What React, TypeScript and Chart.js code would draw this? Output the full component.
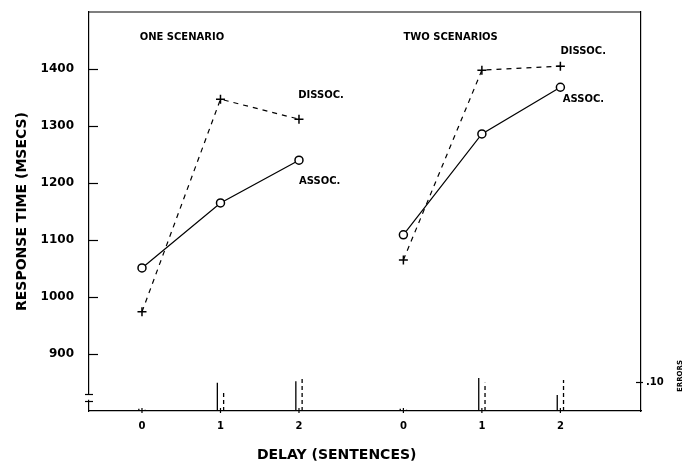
import React, { useEffect, useRef } from 'react';
import { Chart, registerables } from 'chart.js';

Chart.register(...registerables);

// ---- data ----
const delays = [0, 1, 2];
const delayLabels = ['0', '1', '2'];
const scenarioNames = ['ONE SCENARIO', 'TWO SCENARIOS'];
const oneAssoc = [1051, 1165, 1240];
const oneDissoc = [974, 1347, 1312];
const twoAssoc = [1109, 1286, 1368];
const twoDissoc = [1065, 1398, 1405];
const oneAssocErr = [0.008, 0.097, 0.103];
const oneDissocErr = [0.004, 0.066, 0.11];
const twoAssocErr = [0.008, 0.114, 0.055];
const twoDissocErr = [0.004, 0.097, 0.107];
const yTicks = [900, 1000, 1100, 1200, 1300, 1400];
const errTicks = [0.1];
const errTickLabels = ['.10'];

// ---- layout config ----
const groupStart = [0, 3.33];
const errOffset = 0.04;
const FONT = 'DejaVu Sans';

const xPositions = groupStart.flatMap((g) => delays.map((d) => g + d));
const xLabelFor = (v: number) => {
  const i = xPositions.findIndex((p) => Math.abs(p - v) < 1e-6);
  return i >= 0 ? delayLabels[i % delayLabels.length] : '';
};

const linePts = (vals: number[], g: number) => vals.map((v, i) => ({ x: g + delays[i], y: v }));
const errPts = (vals: number[], g: number, dx: number) => {
  const pts: any[] = [];
  vals.forEach((v, i) => {
    const x = g + delays[i] + dx;
    pts.push({ x, y: 0 }, { x, y: v }, { x, y: null });
  });
  return pts;
};

const annotations = [
  { text: scenarioNames[0], x: -0.03, y: 1456 },
  { text: scenarioNames[1], x: 3.33, y: 1456 },
  { text: 'DISSOC.', x: 1.99, y: 1354 },
  { text: 'ASSOC.', x: 2.0, y: 1203 },
  { text: 'DISSOC.', x: 5.33, y: 1430 },
  { text: 'ASSOC.', x: 5.36, y: 1346 },
];

const zeroPad = (s: any) => {
  s.paddingTop = 0;
  s.paddingBottom = 0;
  s.paddingLeft = 0;
  s.paddingRight = 0;
};

const decorPlugin = {
  id: 'decor',
  afterDraw(chart: any) {
    const { ctx, chartArea } = chart;
    const xs = chart.scales.x;
    const ys = chart.scales.y;
    const es = chart.scales.err;
    const { left, right, top, bottom } = chartArea;
    ctx.save();
    ctx.strokeStyle = '#000';
    ctx.fillStyle = '#000';
    ctx.lineWidth = 1.2;
    // top border
    ctx.beginPath();
    ctx.moveTo(left, top);
    ctx.lineTo(right, top);
    ctx.stroke();
    // y ticks inward
    yTicks.forEach((t) => {
      const py = Math.round(ys.getPixelForValue(t)) + 0.5;
      ctx.beginPath();
      ctx.moveTo(left, py);
      ctx.lineTo(left + 9, py);
      ctx.stroke();
    });
    // x ticks
    xPositions.forEach((p) => {
      const px = xs.getPixelForValue(p);
      ctx.beginPath();
      ctx.moveTo(px, bottom - 3);
      ctx.lineTo(px, bottom + 2);
      ctx.stroke();
    });
    // err tick
    errTicks.forEach((t) => {
      const py = Math.round(es.getPixelForValue(t)) + 0.5;
      ctx.beginPath();
      ctx.moveTo(right - 5, py);
      ctx.lineTo(right + 2, py);
      ctx.stroke();
    });
    // axis break
    const b1 = ys.getPixelForValue(830);
    const b2 = ys.getPixelForValue(818);
    ctx.fillStyle = '#fff';
    ctx.fillRect(left - 2, b1 + 1, 4, b2 - b1 - 2);
    ctx.fillStyle = '#000';
    [b1, b2].forEach((b) => {
      ctx.beginPath();
      ctx.moveTo(left - 4, Math.round(b) + 0.5);
      ctx.lineTo(left + 4, Math.round(b) + 0.5);
      ctx.stroke();
    });
    // annotations
    ctx.font = `bold 10px "${FONT}"`;
    ctx.textAlign = 'left';
    ctx.textBaseline = 'middle';
    annotations.forEach((a) => {
      ctx.fillText(a.text, xs.getPixelForValue(a.x), ys.getPixelForValue(a.y));
    });
    // x title
    ctx.font = `bold 14px "${FONT}"`;
    ctx.textAlign = 'center';
    ctx.fillText('DELAY (SENTENCES)', xs.getPixelForValue(2.48), bottom + 44);
    // ERRORS label
    ctx.save();
    ctx.translate(chart.width - 2, es.getPixelForValue(0.1) - 6);
    ctx.rotate(-Math.PI / 2);
    ctx.font = `bold 7px "${FONT}"`;
    ctx.textAlign = 'center';
    ctx.fillText('ERRORS', 0, 0);
    ctx.restore();
    ctx.restore();
  },
};

export default function App() {
  const ref = useRef<HTMLCanvasElement | null>(null);
  useEffect(() => {
    document.body.style.margin = '0';
    const canvas = ref.current;
    if (!canvas) return;
    Chart.defaults.font.family = FONT;
    Chart.defaults.color = '#000';
    const mainLine = (data: any[], dashed: boolean) => ({
      data,
      yAxisID: 'y',
      borderColor: '#000',
      borderWidth: 1.2,
      borderDash: dashed ? [5, 5] : [],
      pointStyle: dashed ? 'cross' : 'circle',
      pointRadius: dashed ? 4.5 : 4,
      pointBorderWidth: 1.5,
      pointBorderColor: '#000',
      pointBackgroundColor: '#fff',
      fill: false,
      tension: 0,
    });
    const errLine = (data: any[], dashed: boolean) => ({
      data,
      yAxisID: 'err',
      borderColor: '#000',
      borderWidth: 1.3,
      borderDash: dashed ? [4, 3] : [],
      pointRadius: 0,
      spanGaps: false,
      fill: false,
    });
    const chart = new Chart(canvas, {
      type: 'line',
      data: {
        datasets: [
          mainLine(linePts(oneAssoc, groupStart[0]), false),
          mainLine(linePts(oneDissoc, groupStart[0]), true),
          mainLine(linePts(twoAssoc, groupStart[1]), false),
          mainLine(linePts(twoDissoc, groupStart[1]), true),
          errLine(errPts(oneAssocErr, groupStart[0], -errOffset), false),
          errLine(errPts(oneDissocErr, groupStart[0], errOffset), true),
          errLine(errPts(twoAssocErr, groupStart[1], -errOffset), false),
          errLine(errPts(twoDissocErr, groupStart[1], errOffset), true),
        ] as any,
      },
      options: {
        animation: false,
        responsive: false,
        devicePixelRatio: 1,
        layout: { padding: { top: 12, left: 0, right: 0, bottom: 0 } },
        plugins: { legend: { display: false }, tooltip: { enabled: false } },
        scales: {
          x: {
            type: 'linear',
            position: 'bottom',
            min: -0.675,
            max: 6.357,
            grid: { display: false, drawTicks: false },
            border: { display: true, color: '#000', width: 1.2 },
            afterBuildTicks: (s: any) => {
              s.ticks = xPositions.map((v) => ({ value: v }));
            },
            afterFit: (s: any) => {
              s.height = 55;
              zeroPad(s);
            },
            ticks: {
              autoSkip: false,
              maxRotation: 0,
              padding: 9,
              font: { family: FONT, size: 10, weight: 'bold' },
              color: '#000',
              callback: (v: any) => xLabelFor(Number(v)),
            },
          },
          y: {
            type: 'linear',
            position: 'left',
            min: 800,
            max: 1500,
            grid: { display: false, drawTicks: false },
            border: { display: true, color: '#000', width: 1.2 },
            afterBuildTicks: (s: any) => {
              s.ticks = yTicks.map((v) => ({ value: v }));
            },
            afterFit: (s: any) => {
              s.width = 89;
              zeroPad(s);
            },
            ticks: {
              padding: 15,
              font: { family: FONT, size: 12, weight: 'bold' },
              color: '#000',
              callback: (v: any) => String(v),
            },
            title: {
              display: true,
              text: 'RESPONSE TIME (MSECS)',
              font: { family: FONT, size: 14, weight: 'bold' },
              color: '#000',
              padding: { top: 14, bottom: 0 },
            },
          },
          err: {
            type: 'linear',
            position: 'right',
            min: 0,
            max: 1.376,
            grid: { display: false, drawTicks: false },
            border: { display: true, color: '#000', width: 1.2 },
            afterBuildTicks: (s: any) => {
              s.ticks = errTicks.map((v) => ({ value: v }));
            },
            afterFit: (s: any) => {
              s.width = 41;
              zeroPad(s);
            },
            ticks: {
              padding: 5,
              font: { family: FONT, size: 10, weight: 'bold' },
              color: '#000',
              callback: (v: any) => {
                const i = errTicks.findIndex((t) => Math.abs(t - Number(v)) < 1e-9);
                return i >= 0 ? errTickLabels[i] : '';
              },
            },
          },
        },
      } as any,
      plugins: [decorPlugin],
    });
    return () => chart.destroy();
  }, []);
  return (
    <div style={{ position: 'absolute', left: 0, top: 0, width: 682, height: 466, background: '#fff' }}>
      <canvas ref={ref} width={682} height={466} style={{ display: 'block' }} />
    </div>
  );
}
